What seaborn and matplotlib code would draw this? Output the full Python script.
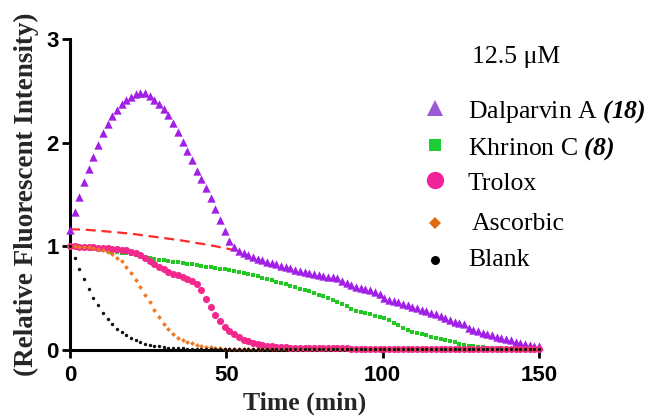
import numpy as np
import pandas as pd
import matplotlib
matplotlib.use("Agg")
import matplotlib.pyplot as plt
import seaborn as sns
from matplotlib.lines import Line2D

# ---------------- data ----------------
time_min = [round(1.5 * i, 1) for i in range(101)]

dalparvin = [1.155, 1.33, 1.48, 1.62, 1.75, 1.865, 1.98, 2.09, 2.18, 2.255,
             2.315, 2.37, 2.41, 2.445, 2.47, 2.482, 2.476, 2.45, 2.412, 2.372,
             2.325, 2.265, 2.19, 2.105, 2.01, 1.92, 1.83, 1.73, 1.65, 1.565,
             1.465, 1.36, 1.25, 1.15, 1.05, 0.99, 0.955, 0.932, 0.912, 0.895,
             0.88, 0.866, 0.852, 0.839, 0.826, 0.813, 0.80, 0.788, 0.776, 0.764,
             0.753, 0.744, 0.735, 0.726, 0.717, 0.708, 0.70, 0.69, 0.665, 0.645,
             0.628, 0.612, 0.598, 0.585, 0.575, 0.562, 0.545, 0.50, 0.485, 0.472,
             0.46, 0.447, 0.433, 0.418, 0.403, 0.388, 0.374, 0.36, 0.345, 0.33,
             0.31, 0.29, 0.272, 0.262, 0.25, 0.215, 0.195, 0.18, 0.165, 0.152,
             0.14, 0.128, 0.115, 0.103, 0.092, 0.08, 0.07, 0.06, 0.05, 0.042,
             0.035]

khrinon = [1.00, 0.995, 0.99, 0.985, 0.98, 0.975, 0.97, 0.965, 0.955, 0.95,
           0.945, 0.94, 0.935, 0.925, 0.915, 0.905, 0.895, 0.885, 0.878, 0.871,
           0.865, 0.859, 0.853, 0.847, 0.84, 0.833, 0.826, 0.819, 0.812, 0.805,
           0.798, 0.791, 0.784, 0.777, 0.77, 0.762, 0.753, 0.743, 0.733, 0.722,
           0.71, 0.698, 0.685, 0.672, 0.658, 0.645, 0.632, 0.619, 0.606, 0.593,
           0.58, 0.566, 0.551, 0.535, 0.518, 0.50, 0.482, 0.465, 0.445, 0.42,
           0.395, 0.38, 0.366, 0.354, 0.343, 0.332, 0.32, 0.308, 0.29, 0.262,
           0.238, 0.215, 0.195, 0.178, 0.165, 0.152, 0.14, 0.128, 0.118, 0.108,
           0.098, 0.088, 0.076, 0.062, 0.05, 0.042, 0.036, 0.031, 0.027, 0.023,
           0.02, 0.018, 0.016, 0.014, 0.013, 0.012, 0.011, 0.01, 0.01, 0.01,
           0.01]

trolox = [1.00, 1.00, 0.995, 0.995, 0.99, 0.99, 0.985, 0.985, 0.98, 0.975,
          0.97, 0.965, 0.96, 0.95, 0.935, 0.915, 0.89, 0.86, 0.83, 0.805,
          0.78, 0.755, 0.735, 0.72, 0.705, 0.685, 0.665, 0.635, 0.58, 0.495,
          0.41, 0.335, 0.275, 0.225, 0.185, 0.15, 0.125, 0.10, 0.082, 0.068,
          0.057, 0.048, 0.041, 0.036, 0.032, 0.028, 0.025, 0.023, 0.021, 0.02,
          0.019, 0.018, 0.018, 0.017, 0.017, 0.016, 0.016, 0.015, 0.015, 0.015,
          0.014, 0.014, 0.014, 0.013, 0.013, 0.013, 0.013, 0.012, 0.012, 0.012,
          0.012, 0.012, 0.012, 0.012, 0.012, 0.012, 0.012, 0.012, 0.012, 0.012,
          0.012, 0.012, 0.012, 0.012, 0.012, 0.012, 0.012, 0.012, 0.012, 0.012,
          0.012, 0.012, 0.012, 0.012, 0.012, 0.012, 0.012, 0.012, 0.012, 0.012,
          0.012]

ascorbic = [1.00, 1.00, 0.995, 0.99, 0.99, 0.985, 0.975, 0.965, 0.95, 0.925,
            0.89, 0.855, 0.80, 0.745, 0.68, 0.61, 0.535, 0.46, 0.39, 0.315,
            0.255, 0.20, 0.155, 0.12, 0.095, 0.077, 0.063, 0.05, 0.04, 0.032,
            0.025, 0.02, 0.016, 0.013, 0.011, 0.01, 0.01, 0.01, 0.01, 0.01,
            0.01, 0.01, 0.01, 0.01, 0.01, 0.01, 0.01, 0.01, 0.01, 0.01,
            0.01, 0.01, 0.01, 0.01, 0.01, 0.01, 0.01, 0.01, 0.01, 0.01,
            0.01, 0.01, 0.01, 0.01, 0.01, 0.01, 0.01, 0.01, 0.01, 0.01,
            0.01, 0.01, 0.01, 0.01, 0.01, 0.01, 0.01, 0.01, 0.01, 0.01,
            0.01, 0.01, 0.01, 0.01, 0.01, 0.01, 0.01, 0.01, 0.01, 0.01,
            0.01, 0.01, 0.01, 0.01, 0.01, 0.01, 0.01, 0.01, 0.01, 0.01,
            0.01]

blank = [1.00, 0.89, 0.785, 0.685, 0.59, 0.505, 0.43, 0.36, 0.30, 0.25,
         0.205, 0.17, 0.14, 0.115, 0.093, 0.075, 0.062, 0.05, 0.042, 0.035,
         0.029, 0.024, 0.02, 0.017, 0.015, 0.013, 0.011, 0.01, 0.009, 0.009,
         0.008, 0.008, 0.008, 0.008, 0.008, 0.008, 0.008, 0.008, 0.008, 0.008,
         0.008, 0.008, 0.008, 0.008, 0.008, 0.008, 0.008, 0.008, 0.008, 0.008,
         0.008, 0.008, 0.008, 0.008, 0.008, 0.008, 0.008, 0.008, 0.008, 0.008,
         0.008, 0.008, 0.008, 0.008, 0.008, 0.008, 0.008, 0.008, 0.008, 0.008,
         0.008, 0.008, 0.008, 0.008, 0.008, 0.008, 0.008, 0.008, 0.008, 0.008,
         0.008, 0.008, 0.008, 0.008, 0.008, 0.008, 0.008, 0.008, 0.008, 0.008,
         0.008, 0.008, 0.008, 0.008, 0.008, 0.008, 0.008, 0.008, 0.008, 0.008,
         0.008]

fit_time = [0, 5, 10, 15, 20, 25, 30, 35, 40, 45, 50, 55]
fit_value = [1.165, 1.16, 1.148, 1.135, 1.12, 1.10, 1.08, 1.06, 1.035, 1.01, 0.98, 0.945]

legend_labels = [r"Dalparvin A $\mathbfit{(18)}$", r"Khrinon C $\mathbfit{(8)}$",
                 "Trolox", "Ascorbic", "Blank"]
legend_title = "12.5 μM"
x_ticks = [0, 50, 100, 150]
y_ticks = [0, 1, 2, 3]

# ---------------- style ----------------
sns.set_theme(style="ticks")
plt.rcParams["font.family"] = ["Liberation Sans", "DejaVu Sans"]
plt.rcParams["mathtext.fontset"] = "custom"
plt.rcParams["mathtext.rm"] = "Liberation Serif"
plt.rcParams["mathtext.it"] = "Liberation Serif:italic"
plt.rcParams["mathtext.bf"] = "Liberation Serif:bold"
plt.rcParams["mathtext.bfit"] = "Liberation Serif:italic:bold"

SERIF = ["Liberation Serif", "DejaVu Serif"]
W, H = 649, 420
fig = plt.figure(figsize=(W / 100, H / 100), dpi=100)
ax = fig.add_axes([70 / W, 70 / H, (539 - 70) / W, (350 - 39) / H])

c_purple = "#a21fe6"
c_green = "#22c922"
c_pink = "#f2288c"
c_orange = "#f07820"
c_black = "#111111"

t = np.array(time_min)

sns.lineplot(x=fit_time, y=fit_value, ax=ax, color="#ff2a2a", linewidth=1.6,
             zorder=2)
ax.lines[-1].set_dashes((4.5, 2.6))

sns.scatterplot(x=t, y=dalparvin, ax=ax, marker="^", color=c_purple, s=36,
                linewidth=0, zorder=3, clip_on=False)
sns.scatterplot(x=t, y=khrinon, ax=ax, marker="s", color=c_green, s=11,
                linewidth=0, zorder=4, clip_on=False)
sns.scatterplot(x=t, y=trolox, ax=ax, marker="o", color=c_pink, s=26,
                linewidth=0, zorder=5, clip_on=False)
sns.scatterplot(x=t, y=ascorbic, ax=ax, marker="D", color=c_orange, s=6,
                linewidth=0, zorder=6, clip_on=False)
sns.scatterplot(x=t, y=blank, ax=ax, marker="o", color=c_black, s=6,
                linewidth=0, zorder=7, clip_on=False)

ax.set_xlim(0, 150)
ax.set_ylim(0, 3)
ax.set_xticks(x_ticks)
ax.set_yticks(y_ticks)
ax.set_xticklabels([str(v) for v in x_ticks])
ax.set_yticklabels([str(v) for v in y_ticks])
for s in ["top", "right"]:
    ax.spines[s].set_visible(False)
for s in ["left", "bottom"]:
    ax.spines[s].set_linewidth(2.2)
    ax.spines[s].set_color("black")
    ax.spines[s].set_zorder(1)
ax.tick_params(axis="both", direction="out", length=6, width=2.0, colors="black")
ax.tick_params(axis="y", pad=2)
ax.tick_params(axis="x", pad=5)
for lab in ax.get_xticklabels() + ax.get_yticklabels():
    lab.set_fontfamily(["Liberation Sans", "DejaVu Sans"])
    lab.set_fontweight("bold")
    lab.set_fontsize(16)

ax.set_ylabel("(Relative Fluorescent Intensity)", family=SERIF,
              fontweight="bold", fontsize=19.5)
ax.set_xlabel("Time (min)", family=SERIF, fontweight="bold", fontsize=18.5)
ax.yaxis.set_label_coords(-0.067, 0.5)
ax.xaxis.set_label_coords(0.5, -0.135)

# ---------------- legend (manual placement, figure pixels) ----------------
leg_markers = [("^", 11.5, "#9b5ad6"), ("s", 9, "#1fcc33"), ("o", 12.5, "#f0239a"),
               ("D", 6.5, "#e06a10"), ("o", 6.5, "black")]
marker_y = [108, 145, 180, 223, 260]
text_y = [108, 145, 181, 221, 258]
text_x = [468, 468, 468, 472, 468]
for (mk, ms, col), my, ty, tx, lab in zip(leg_markers, marker_y, text_y, text_x, legend_labels):
    fig.add_artist(Line2D([435 / W], [1 - my / H], transform=fig.transFigure,
                          linestyle="none", marker=mk, markersize=ms, color=col,
                          markeredgewidth=0))
    fig.text(tx / W, 1 - ty / H, lab, ha="left", va="center_baseline",
             family=SERIF, fontsize=18.5, color="black")
fig.text(516 / W, 1 - 55 / H, legend_title, ha="center", va="center_baseline",
         family=SERIF, fontsize=18.5, color="black")

fig.savefig("out.png", dpi=100, facecolor="white")
